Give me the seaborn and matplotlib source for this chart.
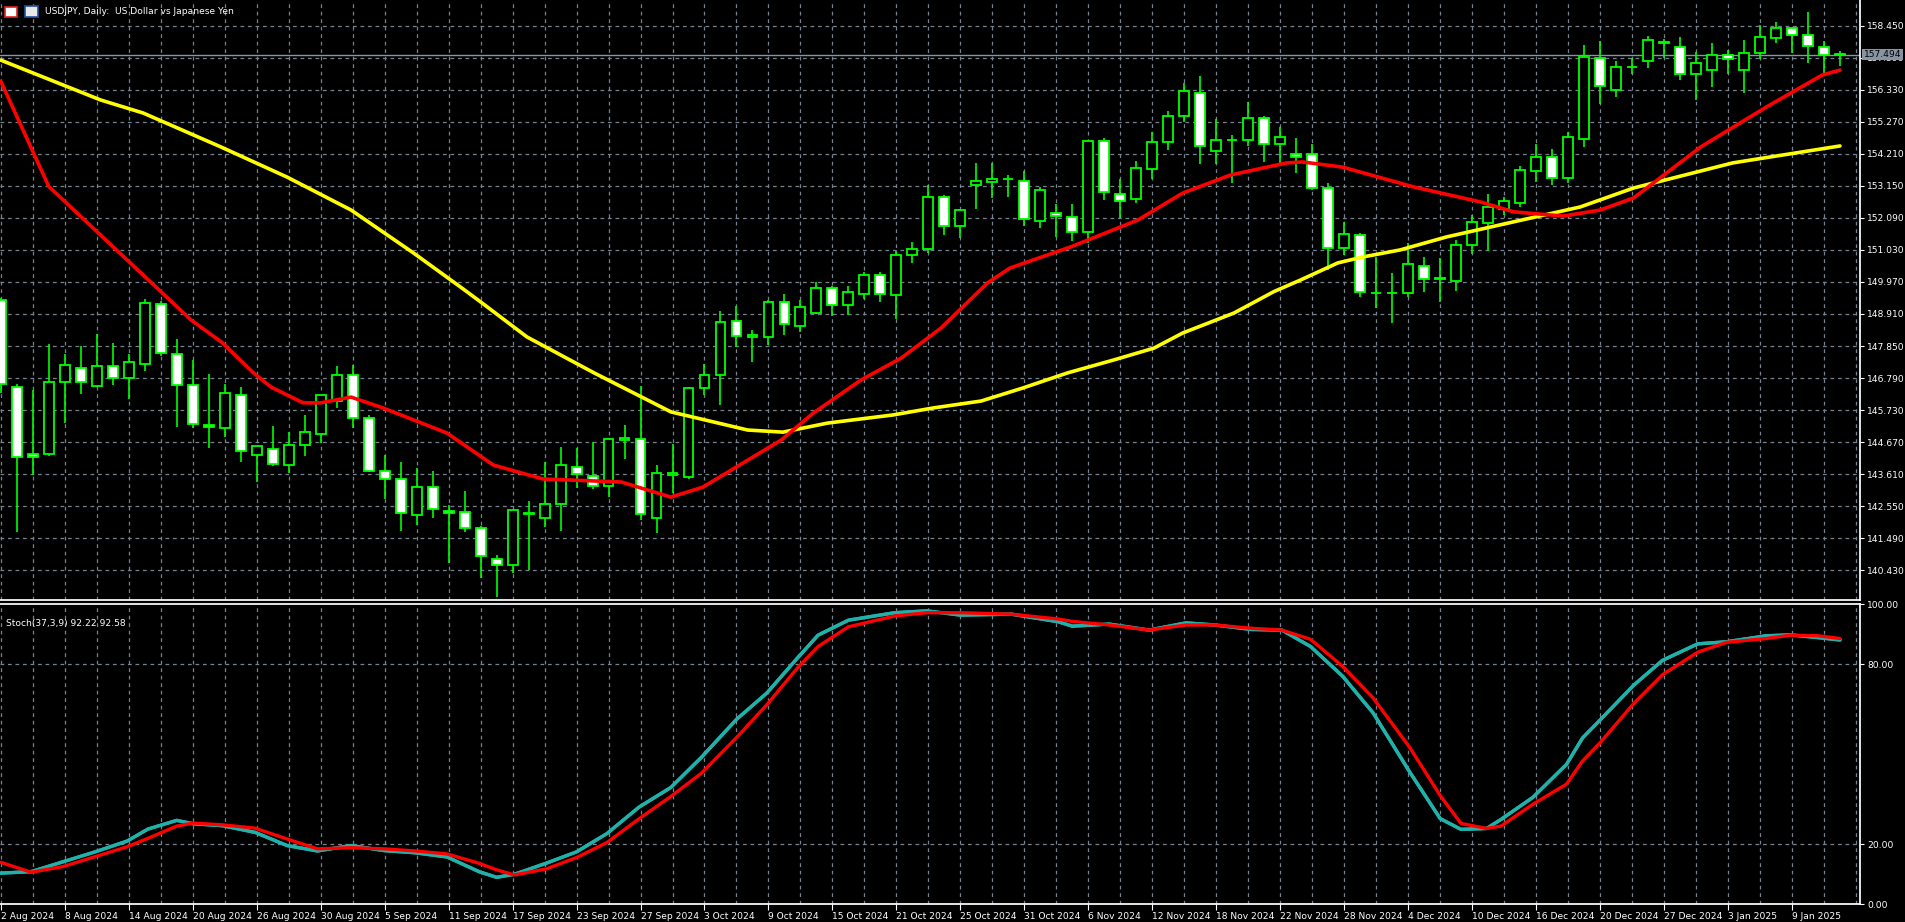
#!/usr/bin/env python3
"""USDJPY daily candles with two moving averages and a stochastic panel (MT4 look)."""

import numpy as np
import pandas as pd
import matplotlib
matplotlib.use("Agg")
import matplotlib.pyplot as plt
from matplotlib.patches import Rectangle
import seaborn as sns

# --- data --------------------------------------------------------------------
dates = pd.bdate_range("2024-08-02", "2025-01-14")
dates = dates[~dates.isin(pd.to_datetime(["2024-12-25", "2025-01-01"]))]

opens = [149.37, 146.49, 144.28, 144.28, 146.66, 147.12, 146.53, 147.19, 146.79, 147.26,
         149.24, 147.59, 146.56, 145.24, 145.14, 146.23, 144.24, 144.44, 143.91, 144.57,
         144.94, 146.03, 146.89, 145.47, 143.71, 143.45, 142.26, 143.18, 142.38, 142.36,
         141.83, 140.80, 140.60, 142.30, 142.16, 142.62, 143.85, 143.55, 143.22, 144.74,
         144.77, 142.16, 143.58, 143.52, 146.46, 146.89, 148.68, 148.16, 148.15, 149.31,
         148.51, 148.94, 149.77, 149.21, 149.57, 150.20, 149.54, 150.85, 151.06, 152.78,
         151.82, 153.18, 153.28, 153.37, 153.31, 151.99, 152.25, 152.12, 151.62, 154.63,
         152.88, 152.71, 153.71, 154.60, 155.46, 156.22, 154.30, 154.66, 154.67, 155.40,
         154.53, 154.20, 154.20, 153.08, 151.09, 151.52, 149.60, 149.60, 149.60, 150.50,
         150.07, 150.00, 151.19, 151.92, 152.38, 152.58, 153.64, 154.10, 153.41, 154.70,
         157.38, 156.32, 157.07, 157.28, 157.89, 157.74, 156.85, 156.98, 157.48, 156.98,
         157.55, 158.04, 158.37, 158.14, 157.74, 157.49]
highs = [149.45, 146.59, 146.40, 147.92, 147.59, 147.85, 148.25, 147.95, 147.59, 149.41,
         149.34, 148.08, 147.39, 146.92, 146.59, 146.49, 144.54, 145.20, 145.00, 145.57,
         146.23, 147.19, 147.22, 145.57, 144.24, 144.01, 143.81, 143.71, 142.59, 143.05,
         141.90, 140.93, 142.45, 142.72, 144.01, 144.51, 144.48, 144.67, 144.81, 145.24,
         146.53, 143.91, 144.61, 146.49, 147.25, 149.01, 149.17, 148.38, 149.37, 149.57,
         149.37, 149.97, 149.84, 149.84, 150.30, 150.30, 151.00, 151.30, 153.18, 152.85,
         152.40, 153.91, 153.91, 153.51, 153.64, 153.11, 152.55, 152.55, 154.66, 154.73,
         153.38, 153.97, 154.93, 155.63, 156.55, 156.79, 155.36, 154.83, 155.92, 155.45,
         155.10, 154.73, 154.53, 153.25, 151.96, 151.59, 150.80, 150.27, 151.26, 150.80,
         150.76, 151.36, 152.19, 152.88, 152.78, 153.81, 154.53, 154.37, 154.93, 157.81,
         157.94, 157.28, 157.38, 158.11, 158.00, 158.08, 157.58, 157.88, 157.65, 157.98,
         158.47, 158.57, 158.40, 158.90, 157.94, 157.61]
lows = [146.30, 141.70, 143.58, 144.21, 145.30, 146.26, 146.50, 146.56, 146.10, 147.02,
        147.52, 145.17, 145.14, 144.48, 144.84, 144.01, 143.35, 143.88, 143.65, 144.21,
        144.64, 145.80, 145.14, 143.68, 142.78, 141.73, 141.93, 142.16, 140.67, 141.70,
        140.17, 139.55, 140.34, 140.44, 141.86, 141.73, 143.15, 143.12, 142.85, 144.11,
        142.09, 141.66, 142.99, 143.45, 146.23, 145.90, 147.82, 147.32, 147.88, 148.22,
        148.31, 148.91, 148.84, 148.88, 149.40, 149.30, 148.75, 150.60, 150.93, 151.52,
        151.42, 152.38, 152.75, 152.78, 151.82, 151.76, 151.46, 151.32, 151.26, 152.68,
        152.09, 152.58, 153.38, 154.34, 155.26, 153.87, 153.87, 153.25, 154.47, 153.94,
        153.91, 153.58, 153.01, 150.37, 150.86, 149.47, 149.11, 148.61, 149.47, 149.64,
        149.31, 149.67, 150.89, 150.99, 152.19, 152.45, 153.28, 153.18, 153.25, 154.43,
        155.86, 156.09, 156.85, 157.05, 157.38, 156.65, 155.99, 156.42, 156.85, 156.22,
        157.35, 157.88, 157.55, 157.22, 156.88, 157.12]
closes = [146.59, 144.17, 144.18, 146.66, 147.22, 146.66, 147.19, 146.79, 147.32, 149.27,
          147.62, 146.56, 145.27, 145.17, 146.30, 144.38, 144.54, 143.95, 144.57, 145.00,
          146.23, 146.89, 145.47, 143.71, 143.45, 142.32, 143.18, 142.45, 142.34, 141.83,
          140.90, 140.60, 142.42, 142.34, 142.62, 143.91, 143.61, 143.22, 144.77, 144.80,
          142.29, 143.65, 143.64, 146.46, 146.89, 148.64, 148.18, 148.20, 149.31, 148.58,
          149.14, 149.77, 149.21, 149.64, 150.20, 149.57, 150.85, 151.05, 152.78, 151.82,
          152.35, 153.31, 153.38, 153.39, 152.05, 153.01, 152.15, 151.62, 154.63, 152.95,
          152.65, 153.74, 154.60, 155.46, 156.29, 154.47, 154.67, 154.68, 155.40, 154.53,
          154.77, 154.10, 153.08, 151.09, 151.56, 149.64, 149.61, 149.61, 150.56, 150.07,
          150.08, 151.19, 151.96, 152.45, 152.65, 153.67, 154.10, 153.41, 154.77, 157.41,
          156.45, 157.08, 157.09, 157.98, 157.88, 156.85, 157.22, 157.48, 157.35, 157.55,
          158.08, 158.37, 158.14, 157.78, 157.48, 157.494]

ma_fast_bar = [0, 3, 6.1, 8.9, 11.9, 13.8, 15.8, 16.9, 18.9, 20, 21.9, 23.9, 27.9, 28.8,
               30.8, 33.9, 38.8, 41.9, 43.9, 48.8, 50.8, 53.8, 56.3, 58.8, 61.7, 63.1,
               66.9, 71.1, 73.9, 76.9, 80.4, 81.4, 83.9, 88.3, 92.5, 94.6, 97.7, 100,
               102.1, 106.3, 110.4, 113.9, 115]
ma_fast = [156.61, 153.13, 151.59, 150.20, 148.71, 147.98, 146.96, 146.49, 145.97, 145.97,
           146.16, 145.80, 144.97, 144.64, 143.91, 143.45, 143.35, 142.85, 143.18, 144.74,
           145.63, 146.73, 147.45, 148.45, 149.94, 150.43, 151.13, 152.02, 152.91, 153.51,
           153.91, 153.94, 153.77, 153.12, 152.62, 152.29, 152.15, 152.35, 152.75, 154.44,
           155.76, 156.82, 156.98]

ma_slow_bar = [0, 6.25, 8.9, 13.75, 17.9, 21.9, 25.8, 28.75, 30, 32.9, 37.1, 41.9, 46.7,
               48.9, 51.7, 55.8, 58.3, 61.3, 63.9, 66.7, 69.6, 72.1, 73.9, 77.1, 79.6,
               81.25, 83.6, 85.2, 87.5, 90.4, 94.6, 98.75, 102.1, 108.3, 115]
ma_slow = [157.31, 155.99, 155.56, 154.44, 153.44, 152.35, 150.93, 149.80, 149.31, 148.15,
           146.96, 145.67, 145.07, 145.00, 145.30, 145.57, 145.80, 146.03, 146.46, 146.96,
           147.39, 147.78, 148.28, 148.94, 149.65, 150.03, 150.60, 150.80, 151.03, 151.46,
           151.96, 152.45, 153.08, 153.91, 154.47]

stoch_bar = [0, 1.9, 3.9, 5.9, 7.9, 9.2, 11, 12, 13.9, 15.9, 17.9, 19.8, 21.9, 24, 25.9,
             27.9, 29.9, 31, 32.1, 34.1, 36, 37.9, 39.9, 41.9, 43.8, 46, 47.9, 49.8, 51.1,
             53, 55.9, 57.9, 60, 63.2, 66.1, 67, 69.3, 71.8, 74.1, 75.9, 78.2, 80.1, 81.9,
             83.9, 85.8, 88.1, 90, 91.3, 92.9, 93.8, 95.8, 97.9, 98.9, 100, 102.1, 103.9,
             106.1, 107.9, 110.4, 111.9, 113.6, 115]
stoch_main = [10.3, 10.8, 14.1, 17.4, 21.0, 25.0, 27.9, 26.8, 26.1, 23.9, 19.5, 17.7, 19.5,
              17.8, 17.1, 15.7, 10.8, 8.9, 9.9, 13.6, 17.4, 23.5, 32.3, 38.9, 48.9, 61.6,
              70.4, 82.0, 89.7, 94.7, 97.2, 97.8, 96.4, 96.7, 94.2, 92.7, 93.4, 91.4, 93.8,
              93.1, 91.6, 91.4, 85.9, 76.0, 63.8, 44.0, 28.5, 24.9, 25.2, 28.2, 35.6, 46.6,
              55.4, 61.4, 73.0, 81.3, 86.8, 87.5, 89.5, 89.8, 88.9, 88.1]
stoch_signal = [13.9, 10.6, 12.5, 15.8, 19.1, 21.9, 26.0, 27.0, 26.4, 25.3, 21.7, 18.4, 18.8,
                18.4, 17.7, 16.7, 13.6, 11.4, 9.7, 11.7, 15.5, 20.5, 28.4, 35.9, 43.6, 55.5,
                66.5, 78.7, 85.9, 92.5, 96.1, 97.2, 97.2, 96.7, 95.1, 94.3, 93.1, 91.4, 93.1,
                93.1, 92.0, 91.4, 88.3, 79.3, 68.8, 52.2, 36.2, 26.9, 25.2, 26.0, 33.3, 40.0,
                47.7, 53.8, 66.9, 76.5, 84.0, 87.3, 88.6, 89.7, 89.5, 88.6]

price_ticks = [140.43 + 1.06 * k for k in range(18)]
last_price = 157.494

# --- style ---------------------------------------------------------------------
sns.set_theme(style="dark", rc={"axes.facecolor": "black", "figure.facecolor": "black"})
plt.rcParams["font.family"] = ["DejaVu Sans"]
GRID = "#76828f"
GREEN = "#00ff00"
WHITE = "#ffffff"
FS = 6.6

W, H = 1906, 922
fig = plt.figure(figsize=(W / 100, H / 100), dpi=100)
ax = fig.add_axes([0, 1 - 600 / H, 1860 / W, 600 / H])
ax2 = fig.add_axes([0, 1 - 904 / H, 1860 / W, 300 / H])

n = len(opens)
x = np.arange(n)
o, h, l, c = map(np.array, (opens, highs, lows, closes))

for a in (ax, ax2):
    a.set_xlim(-0.05, 1860 / 16)
    for b in range(0, n + 2, 2):
        a.axvline(b, color=GRID, lw=0.9, ls=(0, (3, 3)), zorder=0)
    for side in ("left", "top", "right", "bottom"):
        a.spines[side].set_visible(False)
    a.spines["right"].set_visible(True)
    a.spines["right"].set_color(WHITE)
    a.yaxis.tick_right()
    a.tick_params(axis="y", colors=WHITE, labelsize=FS, length=3, width=0.8,
                  direction="out", pad=2)
    a.grid(False)

# --- main price panel ---------------------------------------------------------
ax.set_ylim(159.30 - 600 / 30.22, 159.30)
for p in price_ticks:
    ax.axhline(p, color=GRID, lw=0.9, ls=(0, (3, 3)), zorder=0)
ax.set_yticks(price_ticks)
ax.set_yticklabels([f"{p:.3f}" for p in price_ticks])
ax.set_xticks([])
ax.spines["bottom"].set_visible(True)
ax.spines["bottom"].set_color(WHITE)

ax.vlines(x, l, h, color=GREEN, lw=1.2, zorder=2)
bull = c >= o
body = np.maximum(np.abs(c - o), 0.02)
bottom = np.minimum(o, c)
ax.bar(x[bull], body[bull], bottom=bottom[bull], width=0.62, color="black",
       edgecolor=GREEN, linewidth=1.3, zorder=3)
ax.bar(x[~bull], body[~bull], bottom=bottom[~bull], width=0.62, color=WHITE,
       edgecolor=GREEN, linewidth=1.3, zorder=3)

sns.lineplot(x=ma_slow_bar, y=ma_slow, ax=ax, color="#ffff00", lw=2.6, zorder=4)
sns.lineplot(x=ma_fast_bar, y=ma_fast, ax=ax, color="#ff0000", lw=2.6, zorder=4)

ax.axhline(last_price, color="#8795a3", lw=1.0, zorder=1)
ax.text(1.002, last_price, f"{last_price:.3f}", transform=ax.get_yaxis_transform(),
        fontsize=FS, color="black", va="center", ha="left", zorder=10,
        bbox=dict(boxstyle="square,pad=0.15", facecolor="#8795a3", edgecolor="none"))
ax.set_xlabel("")
ax.set_ylabel("")

# title with the two small MT4 icons
fig.patches.append(Rectangle((5, 922 - 17), 12, 10, transform=None, facecolor="#ffffff",
                             edgecolor="#e02020", lw=1.2, figure=fig))
fig.patches.append(Rectangle((25, 922 - 17), 13, 11, transform=None, facecolor="#e8e8e8",
                             edgecolor="#2050a0", lw=1.2, figure=fig))
fig.text(45 / W, 1 - 12 / H, "USDJPY, Daily:  US Dollar vs Japanese Yen",
         color=WHITE, fontsize=FS, va="center", ha="left")

# --- stochastic panel ---------------------------------------------------------
ax2.set_ylim(0.66, 100.1)
for lvl in (20, 80):
    ax2.axhline(lvl, color=GRID, lw=0.9, ls=(0, (3, 3)), zorder=0)
ax2.set_yticks([0, 20, 80, 100])
ax2.set_yticklabels(["0.00", "20.00", "80.00", "100.00"])
ax2.spines["top"].set_visible(True)
ax2.spines["top"].set_color(WHITE)
ax2.spines["bottom"].set_visible(True)
ax2.spines["bottom"].set_color(WHITE)
sns.lineplot(x=stoch_bar, y=stoch_main, ax=ax2, color="#20b2aa", lw=2.4, zorder=3)
sns.lineplot(x=stoch_bar, y=stoch_main, ax=ax2, color="#20b2aa", lw=2.4, zorder=3)
sns.lineplot(x=stoch_bar, y=stoch_signal, ax=ax2, color="#ff0000", lw=2.4, zorder=4)
ax2.text(0.003, 0.95, "Stoch(37,3,9) 92.22 92.58", transform=ax2.transAxes,
         color=WHITE, fontsize=FS, va="top", ha="left")

tick_pos = list(range(0, n, 4))
ax2.set_xticks(tick_pos)
ax2.set_xticklabels([f"{d.day} {d:%b %Y}" for d in dates[tick_pos]])
ax2.tick_params(axis="x", colors=WHITE, labelsize=FS, length=4, width=0.8, direction="out",
                bottom=True, pad=2)
for lab in ax2.get_xticklabels():
    lab.set_horizontalalignment("left")
ax2.set_xlabel("")
ax2.set_ylabel("")

fig.savefig("out.png", dpi=100, facecolor="black")
